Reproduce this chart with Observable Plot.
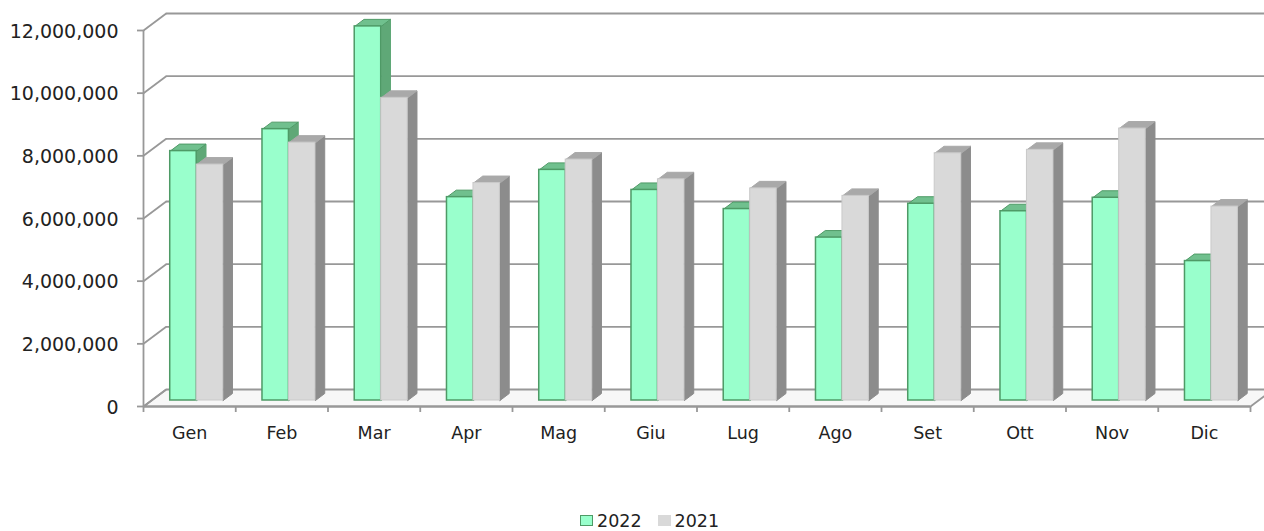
<!DOCTYPE html>
<html><head><meta charset="utf-8">
<script src="https://cdn.jsdelivr.net/npm/d3@7"></script>
<script src="https://cdn.jsdelivr.net/npm/@observablehq/plot@0.6"></script>
<style>
body{margin:0;background:#fff;font-family:"DejaVu Sans",Verdana,sans-serif;}
#chart svg{display:block;overflow:hidden;}
#legend{display:flex;align-items:center;height:21px;padding-top:10px;padding-left:580px;font-size:17.5px;color:#222;}
.sw{display:inline-block;width:11px;height:9px;margin-right:4px;}
</style></head><body>
<div id="chart"></div>
<div id="legend"></div>
<script>
// ---- data ----
const months = ["Gen","Feb","Mar","Apr","Mag","Giu","Lug","Ago","Set","Ott","Nov","Dic"];
const series = ["2022","2021"];
const values2022 = [7960000, 8660000, 11940000, 6490000, 7360000, 6720000, 6110000, 5200000, 6280000, 6040000, 6470000, 4450000];
const values2021 = [7530000, 8230000, 9660000, 6940000, 7690000, 7060000, 6770000, 6530000, 7890000, 8000000, 8680000, 6190000];
const yTicks = [0, 2000000, 4000000, 6000000, 8000000, 10000000, 12000000];

// ---- layout / style ----
const W = 1264, H = 500;
const L = 143, R = 1250, T = 30, B = 406;
const kx = (R - L) / months.length;          // px per category
const ky = (B - T) / 12000000;               // px per unit value
const ux = p => p / kx, uy = p => p / ky;
const back = {dx: 22.7, dy: 17};             // back wall offset (px)
const plane = {dx: 8, dy: 6};                // bar plane offset (px)
const depth = {dx: 9.3, dy: 7};              // bar depth (px)
const barW = 0.287, barStart = 0.203;
const grid = "#989898";
const colors = {
  "2022": {front: "#99ffcc", top: "#70c08e", side: "#5fa877", stroke: "#4e9a66"},
  "2021": {front: "#d9d9d9", top: "#a9a9a9", side: "#8c8c8c", stroke: "#c9c9c9"}
};

const bars = [];
series.forEach((s, si) => {
  const vals = si === 0 ? values2022 : values2021;
  months.forEach((m, i) => {
    const x1 = i + barStart + si * barW, x2 = x1 + barW;
    bars.push({s, m, i, v: vals[i], x1, x2});
  });
});
const ddx = ux(depth.dx), ddy = uy(depth.dy);
function topPoly(b) {
  return [[b.x1, b.v], [b.x2, b.v], [b.x2 + ddx, b.v + ddy], [b.x1 + ddx, b.v + ddy], [b.x1, b.v]]
    .map(([x, y]) => ({x, y, id: b.s + b.m}));
}
function sidePoly(b) {
  return [[b.x2, 0], [b.x2, b.v], [b.x2 + ddx, b.v + ddy], [b.x2 + ddx, ddy], [b.x2, 0]]
    .map(([x, y]) => ({x, y, id: b.s + b.m}));
}

const bdx = ux(back.dx), bdy = uy(back.dy);
const floor = [[0, 0], [months.length, 0], [months.length + bdx, bdy], [bdx, bdy], [0, 0]].map(([x, y]) => ({x, y}));
const boundaries = months.map((m, i) => i).concat([months.length]);

const barMarks = [];
series.forEach(s => {
  const bs = bars.filter(b => b.s === s);
  const c = colors[s];
  barMarks.push(
    Plot.line(bs.flatMap(sidePoly), {x: "x", y: "y", z: "id", fill: c.side, stroke: c.side, strokeWidth: 1, dx: plane.dx, dy: -plane.dy}),
    Plot.line(bs.flatMap(topPoly), {x: "x", y: "y", z: "id", fill: c.top, stroke: s === "2022" ? c.stroke : c.top, strokeWidth: 1, dx: plane.dx, dy: -plane.dy}),
    Plot.rect(bs, {x1: "x1", x2: "x2", y1: 0, y2: "v", fill: c.front, stroke: c.stroke, strokeWidth: s === "2022" ? 1.5 : 1, dx: plane.dx, dy: -plane.dy})
  );
});

const chart = Plot.plot({
  width: W, height: H,
  marginLeft: L, marginRight: W - R, marginTop: T, marginBottom: H - B,
  style: {fontFamily: "DejaVu Sans, Verdana, sans-serif", background: "white", overflow: "hidden"},
  x: {type: "linear", domain: [0, months.length], axis: null},
  y: {type: "linear", domain: [0, 12000000], axis: null},
  marks: [
    // floor
    Plot.line(floor, {x: "x", y: "y", fill: "#f7f7f7", stroke: grid, strokeWidth: 1.8}),
    // back wall gridlines
    Plot.ruleY(yTicks.filter(d => d > 0), {y: d => d, x1: 0, x2: months.length + 1, dx: back.dx, dy: -back.dy, stroke: grid, strokeWidth: 1.8}),
    // diagonals from front axis to back wall
    Plot.link(yTicks, {x1: 0, y1: d => d, x2: bdx, y2: d => d + bdy, stroke: grid, strokeWidth: 1.8}),
    // front y axis line and ticks
    Plot.ruleX([0], {y1: 0, y2: 12000000, stroke: grid, strokeWidth: 1.8}),
    Plot.ruleY(yTicks, {y: d => d, x1: -ux(6), x2: 0, stroke: grid, strokeWidth: 1.8}),
    // front x axis line and ticks
    Plot.ruleY([0], {x1: 0, x2: months.length, stroke: grid, strokeWidth: 1.8}),
    Plot.ruleX(boundaries, {x: d => d, y1: 0, y2: -uy(6), stroke: grid, strokeWidth: 1.8}),
    ...barMarks,
    // labels
    Plot.text(yTicks, {x: 0, y: d => d, text: d => d3.format(",")(d), dx: -25, dy: 1, textAnchor: "end", fontSize: 19, fill: "#222"}),
    Plot.text(months, {x: (d, i) => i + 0.5, y: 0, text: d => d, dy: 26.5, fontSize: 17.5, fill: "#222"})
  ]
});
document.getElementById("chart").appendChild(chart);

// legend
const lg = document.getElementById("legend");
series.forEach((s, i) => {
  const item = document.createElement("span");
  item.style.display = "inline-flex";
  item.style.alignItems = "center";
  if (i > 0) item.style.marginLeft = "16px";
  const sw = document.createElement("span");
  sw.className = "sw";
  sw.style.background = colors[s].front;
  sw.style.border = "1px solid " + (s === "2022" ? colors[s].stroke : colors[s].front);
  item.appendChild(sw);
  item.appendChild(document.createTextNode(s));
  lg.appendChild(item);
});
</script>
</body></html>
